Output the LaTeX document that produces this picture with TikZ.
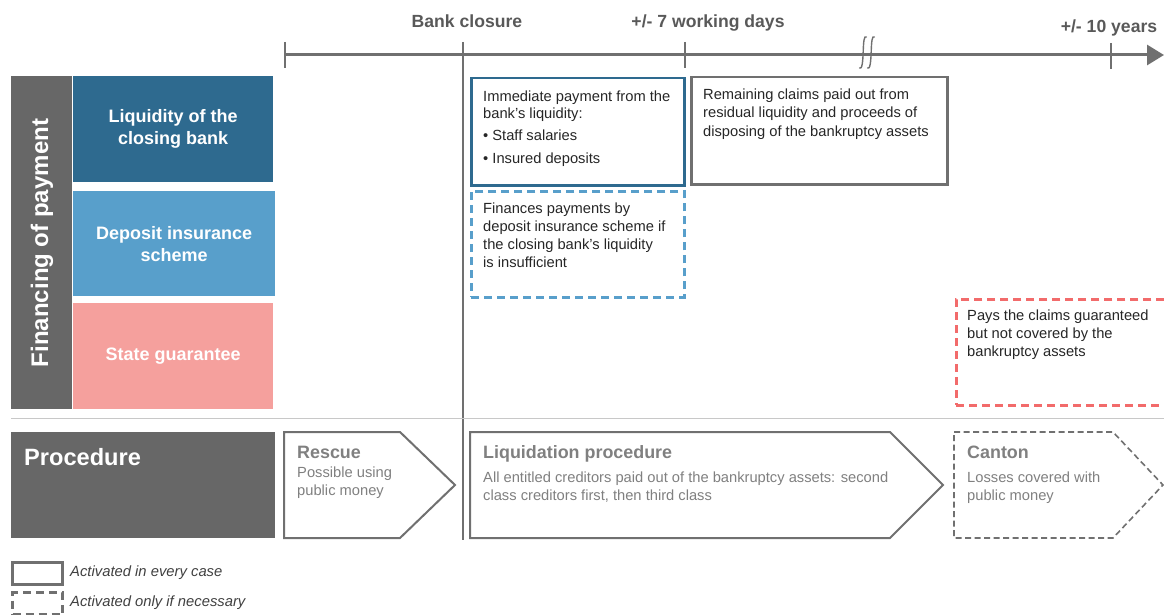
\documentclass[tikz,border=0pt]{standalone}
\usepackage{fontspec}
\setmainfont{Liberation Sans}
\usetikzlibrary{arrows.meta}

\definecolor{axisgray}{HTML}{707070}
\definecolor{labelgray}{HTML}{595959}
\definecolor{colgray}{HTML}{676767}
\definecolor{liqblue}{HTML}{2E6A8F}
\definecolor{disblue}{HTML}{589FCB}
\definecolor{statepink}{HTML}{F5A09D}
\definecolor{redline}{HTML}{F26B6B}
\definecolor{textdark}{HTML}{262626}
\definecolor{procgray}{HTML}{808080}
\definecolor{sepgray}{HTML}{C8C8C8}
\definecolor{legendtext}{HTML}{404040}

\tikzset{
  axis/.style={draw=axisgray, line width=3pt},
  tick/.style={draw=axisgray, line width=2.5pt},
  fillbox/.style={rectangle, inner sep=0pt, anchor=north west},
  sidelabel/.style={text=white, font=\bfseries\fontsize{18}{22}\selectfont, align=center, inner sep=0pt},
  timelabel/.style={text=labelgray, font=\bfseries\fontsize{17.6}{20}\selectfont, anchor=base, inner sep=0pt},
  % multi-line texts are placed by the baseline of their last line
  boxtext/.style={text=textdark, font=\fontsize{14.7}{18}\selectfont, anchor=base west, inner sep=0pt, align=left},
  proctitle/.style={text=procgray, font=\bfseries\fontsize{17.9}{20}\selectfont, anchor=base west, inner sep=0pt},
  proctext/.style={text=procgray, font=\fontsize{14.7}{18}\selectfont, anchor=base west, inner sep=0pt, align=left},
  solidframe/.style={rectangle, inner sep=0pt, anchor=north west, line width=2.5pt},
  procarrow/.style={draw=axisgray, line width=2pt, fill=white, line join=miter},
  legendtext/.style={text=legendtext, font=\itshape\fontsize{14.8}{16}\selectfont, anchor=base west, inner sep=0pt},
}

\begin{document}
\begin{tikzpicture}[x=1pt,y=-1pt]
\useasboundingbox (0,0) rectangle (1164,615);

% ---- time axis ----
\coordinate (tstart) at (285,55);
\coordinate (tend) at (1164,55);
\draw[axis, -{Triangle[length=17pt,width=20pt]}] (tstart) -- (tend);
\coordinate (t0top) at (285,42);   \coordinate (t0bot) at (285,68);
\coordinate (t7top) at (685,42);   \coordinate (t7bot) at (685,68);
\coordinate (t10top) at (1111,43); \coordinate (t10bot) at (1111,69);
\draw[tick] (t0top) -- (t0bot);
\draw[tick] (t7top) -- (t7bot);
\draw[tick] (t10top) -- (t10bot);

% bank closure line
\coordinate (bctop) at (463,42);
\coordinate (bcbot) at (463,540);
\draw[tick] (bctop) -- (bcbot);

% break mark on the axis: two integral-like strokes
\foreach \bx in {863,871}{
  \draw[draw=axisgray, line width=1.4pt, line cap=round]
    (\bx+3.5,37) .. controls (\bx+1,35) and (\bx+0.5,42) .. (\bx+0.2,52)
    .. controls (\bx-0.2,62) and (\bx-1,70) .. (\bx-3.5,68);
}

\node[timelabel] (lbc) at (467,28) {Bank closure};
\node[timelabel] (l7) at (708,28) {+/- 7 working days};
\node[timelabel] (l10) at (1109,33) {+/- 10 years};

% ---- financing of payment ----
\node[fillbox, fill=colgray, minimum width=61pt, minimum height=333pt] (fincol) at (11,76) {};
\node[text=white, font=\bfseries\fontsize{24}{28}\selectfont, rotate=90, inner sep=0pt] (finlabel) at (42,243) {Financing of payment};

\node[fillbox, fill=liqblue, minimum width=200pt, minimum height=106pt] (liq) at (73,76) {};
\node[sidelabel] (liqlabel) at (liq.center) {Liquidity of the\\closing bank};

\node[fillbox, fill=disblue, minimum width=202pt, minimum height=105pt] (dis) at (73,191) {};
\node[sidelabel] (dislabel) at (dis.center) {Deposit insurance\\scheme};

\node[fillbox, fill=statepink, minimum width=200pt, minimum height=106pt] (state) at (73,303) {};
\node[sidelabel] (statelabel) at (state.center) {State guarantee};

% payment boxes
\node[solidframe, draw=liqblue, minimum width=213pt, minimum height=107pt] (immed) at (470,77) {};
\node[boxtext] (immedtext) at (483,163) {Immediate payment from the\\bank's liquidity:\\[4pt]\textbullet\ Staff salaries\\[4pt]\textbullet\ Insured deposits};

\node[solidframe, draw=axisgray, minimum width=256pt, minimum height=107pt] (remain) at (690,76) {};
\node[boxtext] (remaintext) at (703,136) {Remaining claims paid out from\\residual liquidity and proceeds of\\disposing of the bankruptcy assets};

\node[solidframe, draw=disblue, dash pattern=on 8pt off 5pt, minimum width=213pt, minimum height=106pt] (fin) at (470,190) {};
\node[boxtext] (fintext) at (483,267) {Finances payments by\\deposit insurance scheme if\\the closing bank's liquidity\\is insufficient};

\node[solidframe, draw=redline, dash pattern=on 8pt off 5pt, minimum width=220pt, minimum height=106pt] (pays) at (955,298) {};
\node[boxtext] (paystext) at (967,356) {Pays the claims guaranteed\\but not covered by the\\bankruptcy assets};

% separator
\coordinate (sepl) at (11,418);
\coordinate (sepr) at (1164,418);
\draw[draw=sepgray, line width=1pt] (sepl) -- (sepr);

% ---- procedure ----
\node[fillbox, fill=colgray, minimum width=264pt, minimum height=106pt] (proc) at (11,432) {};
\node[text=white, font=\bfseries\fontsize{23.6}{26}\selectfont, anchor=base west, inner sep=0pt] (proclabel) at (24,465) {Procedure};

\draw[procarrow] (284,432) -- (400,432) -- (455,485) -- (400,538) -- (284,538) -- cycle;
\node[proctitle] (rescue) at (297,458) {Rescue};
\node[proctext] (rescuetext) at (297,495) {Possible using\\public money};

\draw[procarrow] (470,432) -- (890,432) -- (943,485) -- (890,538) -- (470,538) -- cycle;
\node[proctitle] (liquid) at (483,458) {Liquidation procedure};
\node[proctext] (liquidtext) at (483,500) {All entitled creditors paid out of the bankruptcy assets: second\\class creditors first, then third class};

\draw[procarrow, line width=1.6pt, dash pattern=on 6pt off 3.5pt] (954,432) -- (1113,432) -- (1163,485) -- (1113,538) -- (954,538) -- cycle;
\node[proctitle] (canton) at (967,458) {Canton};
\node[proctext] (cantontext) at (967,500) {Losses covered with\\public money};

% ---- legend ----
\node[solidframe, draw=axisgray, line width=3pt, minimum width=50pt, minimum height=22pt] (legsolid) at (11,561) {};
\node[legendtext] (legsolidtext) at (70,576) {Activated in every case};
\node[solidframe, draw=axisgray, line width=3pt, dash pattern=on 8pt off 5pt, minimum width=50pt, minimum height=22pt] (legdash) at (11,591) {};
\node[legendtext] (legdashtext) at (70,606) {Activated only if necessary};
\end{tikzpicture}
\end{document}
